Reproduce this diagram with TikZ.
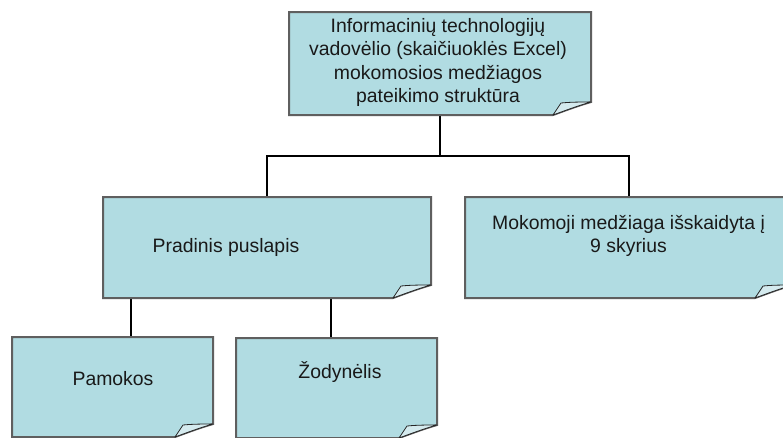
\documentclass[tikz,border=0pt]{standalone}
\usepackage{fontspec}
\setmainfont{Liberation Sans}
\usetikzlibrary{calc}
\definecolor{notefill}{RGB}{177,220,226}
\definecolor{noteedge}{RGB}{95,95,95}
\definecolor{flapfill}{RGB}{212,234,238}
% A note sheet whose lower right corner is folded up
\newcommand\foldednote[1]{%
  \path[notesheet] (#1.north west) -- (#1.north east) -- ($(#1.south east)+(0,13)$)
    .. controls ($(#1.south east)+(-14,9)$) and ($(#1.south east)+(-27,4)$) .. ($(#1.south east)+(-38,0)$)
    -- (#1.south west) -- cycle;
  \path[noteflap] ($(#1.south east)+(-38,0)$) -- ($(#1.south east)+(-30,12)$)
    .. controls ($(#1.south east)+(-20,13)$) and ($(#1.south east)+(-10,13)$) .. ($(#1.south east)+(0,13)$)
    .. controls ($(#1.south east)+(-14,9)$) and ($(#1.south east)+(-27,4)$) .. ($(#1.south east)+(-38,0)$) -- cycle;
}
\tikzset{
  x=1pt, y=1pt,
  notebox/.style={shape=rectangle, inner sep=0pt, outer sep=0pt, draw=none},
  notesheet/.style={fill=notefill, draw=noteedge, line width=2pt, line join=miter},
  noteflap/.style={fill=flapfill, draw=black!85, line width=0.8pt, line join=round},
  link/.style={draw=black, line width=1.5pt},
  lbl/.style={inner sep=0pt, align=center, text=black!90,
    font=\fontsize{19.4}{23.5}\selectfont},
}
\begin{document}
\begin{tikzpicture}
\useasboundingbox (0,0) rectangle (783,-437);
\clip (0,0) rectangle (783,-437);
\fill[white] (0,0) rectangle (783,-437);

% sheets (geometry only)
\node[notebox, minimum width=302, minimum height=103] (top)  at (440,-63.5) {};
\node[notebox, minimum width=328, minimum height=101] (prad) at (267,-247.5) {};
\node[notebox, minimum width=328, minimum height=101] (mok)  at (629,-247.5) {};
\node[notebox, minimum width=201, minimum height=100] (pam)  at (112.5,-387) {};
\node[notebox, minimum width=201, minimum height=100] (zod)  at (336.5,-388) {};

% connectors
\coordinate (split) at (top.south |- 0,-156);
\coordinate (pamtop) at ([xshift=18.5pt]pam.north);
\coordinate (zodtop) at ([xshift=-5.5pt]zod.north);
\draw[link] (top.south) -- (split);
\draw[link] (prad.north) |- (split) -| (mok.north);
\draw[link] (pamtop) -- (pamtop |- prad.south);
\draw[link] (zodtop) -- (zodtop |- prad.south);

% sheets
\foldednote{top}
\foldednote{prad}
\foldednote{mok}
\foldednote{pam}
\foldednote{zod}

% texts
\node[lbl, anchor=north] (toptxt) at (438,-18) {Informacinių technologijų\\vadovėlio (skaičiuoklės Excel)\\mokomosios medžiagos\\pateikimo struktūra};
\node[lbl, anchor=base] (pradtxt) at (226,-252) {Pradinis puslapis};
\node[lbl, anchor=north] (moktxt) at (628.5,-215) {Mokomoji medžiaga išskaidyta į\\9 skyrius};
\node[lbl, anchor=base] (pamtxt) at (113,-385) {Pamokos};
\node[lbl, anchor=base] (zodtxt) at (340,-378) {Žodynėlis};
\end{tikzpicture}
\end{document}
